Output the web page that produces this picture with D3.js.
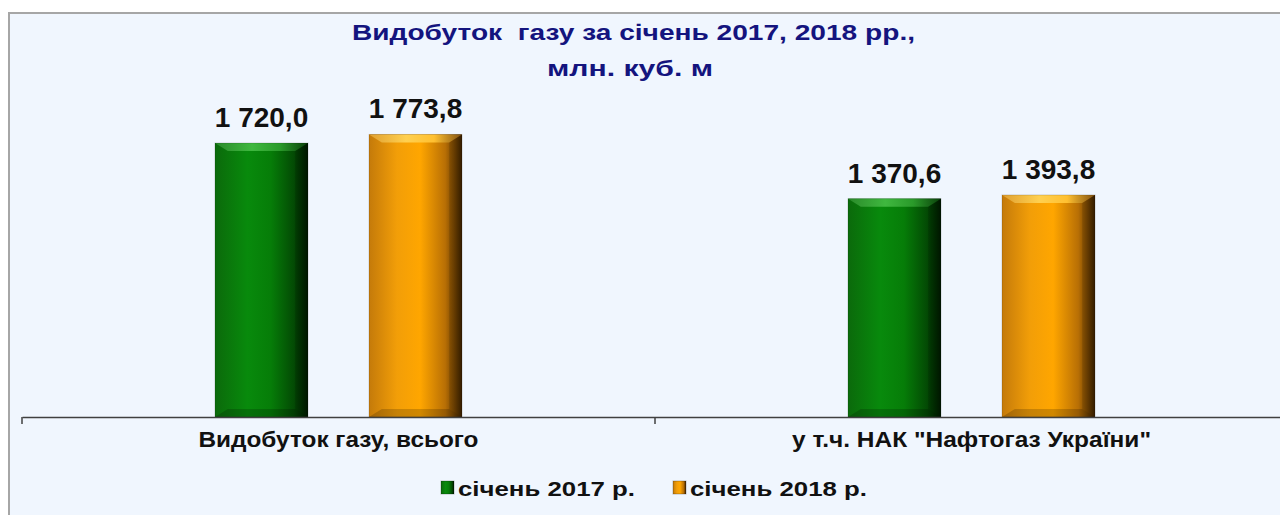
<!DOCTYPE html>
<html><head><meta charset="utf-8">
<script src="https://cdn.jsdelivr.net/npm/d3@7"></script>
<style>html,body{margin:0;padding:0;background:#fff;}svg{display:block;}</style>
</head><body>
<svg id="chart" width="1280" height="515"></svg>
<script>
const titleLines = ["Видобуток  газу за січень 2017, 2018 рр.,", "млн. куб. м"];
const categories = ["Видобуток газу, всього", "у т.ч. НАК \"Нафтогаз України\""];
const seriesNames = ["січень 2017 р.", "січень 2018 р."];
const values2017 = [1720.0, 1370.6];
const values2018 = [1773.8, 1393.8];
const labels2017 = ["1 720,0", "1 370,6"];
const labels2018 = ["1 773,8", "1 393,8"];

const svg = d3.select("#chart");
const plot = {left: 22, right: 1288, top: 98.4, bottom: 417};
const FONT = "Liberation Sans, Arial, sans-serif";

// frame
svg.append("rect").attr("x", 9).attr("y", 13).attr("width", 1290).attr("height", 520)
  .attr("fill", "#f0f6fe").attr("stroke", "#a6a6a6").attr("stroke-width", 2);

// gradients
const defs = svg.append("defs");
function hGrad(id, stops) {
  const g = defs.append("linearGradient").attr("id", id).attr("x1", "0").attr("x2", "1").attr("y1", "0").attr("y2", "0");
  stops.forEach(s => g.append("stop").attr("offset", s[0]).attr("stop-color", s[1]));
}
hGrad("gGreen", [[0, "#0b6a0b"], [0.35, "#088a0c"], [0.6, "#067d08"], [0.85, "#034a04"], [1, "#001800"]]);
hGrad("gOrange", [[0, "#c47a0a"], [0.3, "#f29e08"], [0.55, "#ffa600"], [0.82, "#b86f05"], [1, "#3a2000"]]);
hGrad("gGreenTop", [[0, "#2a8a2a"], [0.4, "#3fb83f"], [0.7, "#2a9a2a"], [1, "#0a400a"]]);
hGrad("gOrangeTop", [[0, "#e0a030"], [0.4, "#ffd050"], [0.7, "#ffc030"], [1, "#805010"]]);

const x0 = d3.scaleBand().domain(categories).range([plot.left, plot.right]);
const x1 = d3.scaleBand().domain(seriesNames).range([0, x0.bandwidth()]).paddingInner(0.396).paddingOuter(1.253);
const y = d3.scaleLinear().domain([0, 2000]).range([plot.bottom, plot.top]);

// Title
const titleSpec = [{x: 633.5, y: 40, w: 563}, {x: 630, y: 76, w: 166}];
titleLines.forEach((t, i) => {
  svg.append("text").attr("x", titleSpec[i].x).attr("y", titleSpec[i].y).attr("text-anchor", "middle")
    .attr("font-family", FONT).attr("font-weight", "bold").attr("font-size", 22)
    .attr("fill", "#14147e").attr("xml:space", "preserve")
    .attr("textLength", titleSpec[i].w).attr("lengthAdjust", "spacingAndGlyphs").text(t);
});

const series = [
  {name: seriesNames[0], values: values2017, labels: labels2017, fill: "url(#gGreen)", top: "url(#gGreenTop)"},
  {name: seriesNames[1], values: values2018, labels: labels2018, fill: "url(#gOrange)", top: "url(#gOrangeTop)"}
];

const bev = 8;
series.forEach(s => {
  categories.forEach((c, i) => {
    const bx = x0(c) + x1(s.name), bw = x1.bandwidth();
    const by = y(s.values[i]), bh = y(0) - by;
    const g = svg.append("g");
    g.append("rect").attr("x", bx).attr("y", by).attr("width", bw).attr("height", bh).attr("fill", s.fill);
    g.append("polygon").attr("points", [[bx, by], [bx + bw, by], [bx + bw - bev * 1.6, by + bev], [bx + bev * 1.6, by + bev]].map(p => p.join(",")).join(" "))
      .attr("fill", s.top);
    g.append("polygon").attr("points", [[bx, by + bh], [bx + bw, by + bh], [bx + bw - bev * 1.6, by + bh - bev], [bx + bev * 1.6, by + bh - bev]].map(p => p.join(",")).join(" "))
      .attr("fill", "#000").attr("opacity", 0.18);
    g.append("polygon").attr("points", [[bx + bw, by], [bx + bw, by + bh], [bx + bw - bev * 1.6, by + bh - bev], [bx + bw - bev * 1.6, by + bev]].map(p => p.join(",")).join(" "))
      .attr("fill", "#000").attr("opacity", 0.12);
    g.append("rect").attr("x", bx).attr("y", by).attr("width", bw).attr("height", bh).attr("fill", "none")
      .attr("stroke", "#000").attr("stroke-opacity", 0.15).attr("stroke-width", 1);
    svg.append("text").attr("x", bx + bw / 2).attr("y", by - 16).attr("text-anchor", "middle")
      .attr("font-family", FONT).attr("font-weight", "bold")
      .attr("font-size", 28).attr("fill", "#111").text(s.labels[i]);
  });
});

// x axis
const catWidths = [280, 359];
const xAxis = d3.axisBottom(x0).tickSize(0).tickFormat(d => d);
const ax = svg.append("g").attr("transform", `translate(0,${plot.bottom})`).call(xAxis);
ax.select(".domain").attr("stroke", "#404040").attr("stroke-width", 1.5);
ax.selectAll(".tick text").attr("dy", 0).attr("y", 30)
  .attr("font-family", FONT).attr("font-weight", "bold").attr("font-size", 22).attr("fill", "#111")
  .attr("textLength", (d, i) => catWidths[i]).attr("lengthAdjust", "spacingAndGlyphs");
const bounds = [plot.left, x0(categories[1]), plot.right];
svg.selectAll("line.bt").data(bounds).join("line").attr("class", "bt")
  .attr("x1", d => d).attr("x2", d => d).attr("y1", plot.bottom).attr("y2", plot.bottom + 7)
  .attr("stroke", "#404040").attr("stroke-width", 1.5);

// legend
const legendX = [441, 673];
series.forEach((s, i) => {
  const lg = svg.append("g").attr("transform", `translate(${legendX[i]},${481})`);
  lg.append("rect").attr("x", 0).attr("y", 0).attr("width", 13).attr("height", 13).attr("fill", s.fill)
    .attr("stroke", "#000").attr("stroke-opacity", 0.25);
  lg.append("text").attr("x", 17).attr("y", 15).attr("font-family", FONT)
    .attr("font-weight", "bold").attr("font-size", 20).attr("fill", "#111")
    .attr("textLength", 177).attr("lengthAdjust", "spacingAndGlyphs").text(s.name);
});
</script>
</body></html>
